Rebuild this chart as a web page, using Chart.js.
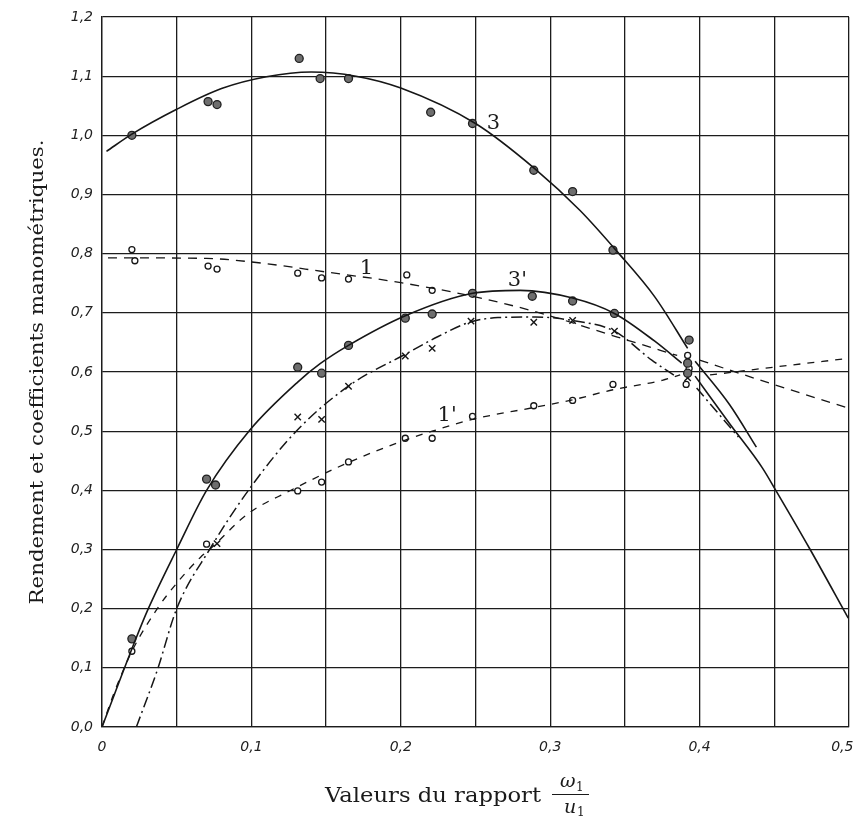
<!DOCTYPE html>
<html><head><meta charset="utf-8">
<script src="https://cdn.jsdelivr.net/npm/chart.js@4.4.1/dist/chart.umd.min.js"></script>
<style>html,body{margin:0;padding:0;background:#fff}canvas{display:block}</style>
</head><body>
<canvas id="c" width="856" height="821"></canvas>
<script>
// ---- tick labels ----
const xTickValues = [0, 0.1, 0.2, 0.3, 0.4, 0.5];
const xTickLabels = ['0', '0,1', '0,2', '0,3', '0,4', '0,5   '];
const yTickLabels = ['0,0','0,1','0,2','0,3','0,4','0,5','0,6','0,7','0,8','0,9','1,0','1,1','1,2'];

// ---- curve 3 (solid, filled dots) ----
const c3LineX = [0.003, 0.02, 0.05, 0.08, 0.11, 0.14, 0.17, 0.20, 0.25, 0.29, 0.32, 0.345, 0.37, 0.392, 0.394, 0.397, 0.42, 0.438];
const c3LineY = [0.973, 1.002, 1.044, 1.079, 1.099, 1.107, 1.100, 1.080, 1.020, 0.943, 0.873, 0.803, 0.727, 0.640, null, 0.618, 0.545, 0.473];
const c3PtsX = [0.020, 0.071, 0.077, 0.132, 0.146, 0.165, 0.220, 0.248, 0.289, 0.315, 0.342, 0.393];
const c3PtsY = [1.000, 1.057, 1.052, 1.130, 1.096, 1.096, 1.039, 1.020, 0.941, 0.905, 0.806, 0.654];

// ---- curve 3' (solid, filled dots) ----
const c3pLineX = [0.0, 0.0228, 0.031, 0.050, 0.070, 0.099, 0.131, 0.146, 0.165, 0.203, 0.248, 0.280, 0.315, 0.343, 0.370, 0.388, 0.392, 0.397, 0.420, 0.442, 0.451, 0.474, 0.4995];
const c3pLineY = [0.0, 0.150, 0.200, 0.300, 0.400, 0.502, 0.583, 0.614, 0.645, 0.695, 0.733, 0.738, 0.725, 0.699, 0.652, 0.615, null, 0.593, 0.513, 0.438, 0.400, 0.300, 0.184];
const c3pPtsX = [0.020, 0.070, 0.076, 0.131, 0.147, 0.165, 0.203, 0.221, 0.248, 0.288, 0.315, 0.343, 0.392, 0.392];
const c3pPtsY = [0.149, 0.419, 0.409, 0.608, 0.598, 0.645, 0.691, 0.698, 0.733, 0.728, 0.720, 0.699, 0.615, 0.598];

// ---- curve 1 (dashed, open circles) ----
const c1LineX = [0.004, 0.07, 0.10, 0.15, 0.20, 0.248, 0.29, 0.345, 0.385, 0.392, 0.400, 0.447, 0.4995];
const c1LineY = [0.793, 0.792, 0.786, 0.769, 0.751, 0.728, 0.702, 0.659, 0.628, null, 0.620, 0.581, 0.539];
const c1PtsX = [0.020, 0.022, 0.071, 0.077, 0.131, 0.147, 0.165, 0.204, 0.221, 0.392, 0.393];
const c1PtsY = [0.807, 0.788, 0.779, 0.774, 0.767, 0.759, 0.757, 0.764, 0.738, 0.628, 0.606];

// ---- curve 1' (short dashes, open circles) ----
const c1pLineX = [0.0, 0.008, 0.020, 0.037, 0.050, 0.066, 0.072, 0.098, 0.124, 0.164, 0.203, 0.221, 0.248, 0.289, 0.315, 0.342, 0.375, 0.387, 0.397, 0.407, 0.449, 0.4995];
const c1pLineY = [0.0, 0.057, 0.128, 0.200, 0.243, 0.287, 0.300, 0.361, 0.397, 0.446, 0.485, 0.500, 0.520, 0.540, 0.553, 0.570, 0.586, 0.595, null, 0.595, 0.608, 0.623];
const c1pPtsX = [0.020, 0.070, 0.131, 0.147, 0.165, 0.203, 0.221, 0.248, 0.289, 0.315, 0.342, 0.391];
const c1pPtsY = [0.128, 0.309, 0.399, 0.414, 0.448, 0.488, 0.488, 0.525, 0.543, 0.552, 0.579, 0.579];

// ---- curve 2 (dash-dot, crosses) ----
const c2LineX = [0.023, 0.037, 0.050, 0.072, 0.098, 0.130, 0.166, 0.203, 0.225, 0.246, 0.265, 0.290, 0.315, 0.343, 0.368, 0.385, 0.392, 0.398, 0.426];
const c2LineY = [0.0, 0.096, 0.200, 0.300, 0.400, 0.500, 0.578, 0.630, 0.660, 0.684, 0.692, 0.693, 0.687, 0.669, 0.620, 0.591, null, 0.573, 0.490];
const c2PtsX = [0.077, 0.131, 0.147, 0.165, 0.203, 0.221, 0.247, 0.289, 0.315, 0.343, 0.392];
const c2PtsY = [0.310, 0.524, 0.520, 0.576, 0.627, 0.640, 0.686, 0.684, 0.687, 0.669, 0.590];

// ---- curve labels ----
const curveLabels = ['3', '1', "3'", "1'"];
const curveLabelX = [0.262, 0.177, 0.278, 0.231];
const curveLabelY = [1.020, 0.775, 0.755, 0.527];

const yTitle = 'Rendement et coefficients manométriques.';
const xTitle = 'Valeurs du rapport';

function pts(xs, ys) { return xs.map((x, i) => ({ x: x, y: ys[i] })); }

const INK = '#161616';
function lineDs(xs, ys, dash, w) {
  return { data: pts(xs, ys), showLine: true, borderColor: INK, borderWidth: w, borderDash: dash,
    pointRadius: 0, pointHoverRadius: 0, cubicInterpolationMode: 'monotone', spanGaps: false, fill: false };
}
function filledDs(xs, ys) {
  return { data: pts(xs, ys), showLine: false, pointStyle: 'circle', pointRadius: 4,
    backgroundColor: '#6e6e6e', borderColor: '#202020', borderWidth: 1.3 };
}
function openDs(xs, ys) {
  return { data: pts(xs, ys), showLine: false, pointStyle: 'circle', pointRadius: 3,
    backgroundColor: '#ffffff', borderColor: '#161616', borderWidth: 1.3 };
}
function crossDs(xs, ys) {
  return { data: pts(xs, ys), showLine: false, pointStyle: 'crossRot', pointRadius: 4.5,
    backgroundColor: INK, borderColor: INK, borderWidth: 1.4 };
}

const textPlugin = {
  id: 'texts',
  afterDraw(chart) {
    const ctx = chart.ctx, xs = chart.scales.x, ys = chart.scales.y;
    ctx.save();
    ctx.fillStyle = '#1a1a1a';
    // curve labels
    ctx.font = '21px "DejaVu Serif"';
    ctx.textAlign = 'center'; ctx.textBaseline = 'middle';
    curveLabels.forEach((t, i) => ctx.fillText(t, xs.getPixelForValue(curveLabelX[i]), ys.getPixelForValue(curveLabelY[i])));
    // y title
    ctx.save();
    ctx.font = '19px "DejaVu Serif"';
    const wY = ctx.measureText(yTitle).width;
    ctx.translate(38, (chart.chartArea.top + chart.chartArea.bottom) / 2);
    ctx.rotate(-Math.PI / 2);
    ctx.scale(465 / wY, 1);
    ctx.textAlign = 'center'; ctx.textBaseline = 'middle';
    ctx.fillText(yTitle, 0, 0);
    ctx.restore();
    // x title
    ctx.save();
    ctx.font = '20px "DejaVu Serif"';
    const wX = ctx.measureText(xTitle).width;
    ctx.translate(325, 802);
    ctx.scale(216 / wX, 1);
    ctx.textAlign = 'left'; ctx.textBaseline = 'alphabetic';
    ctx.fillText(xTitle, 0, 0);
    ctx.restore();
    // fraction omega1 / u1
    ctx.textBaseline = 'alphabetic'; ctx.textAlign = 'left';
    ctx.font = 'italic 19px "DejaVu Serif"';
    ctx.fillText('ω', 560, 787);
    ctx.font = '12px "DejaVu Serif"';
    ctx.fillText('1', 576, 791);
    ctx.font = 'italic 19px "DejaVu Serif"';
    ctx.fillText('u', 564, 813);
    ctx.font = '12px "DejaVu Serif"';
    ctx.fillText('1', 577, 816);
    ctx.strokeStyle = '#1a1a1a'; ctx.lineWidth = 1.2;
    ctx.beginPath(); ctx.moveTo(552, 794.5); ctx.lineTo(589, 794.5); ctx.stroke();
    ctx.restore();
  }
};

new Chart(document.getElementById('c'), {
  type: 'scatter',
  data: {
    datasets: [
      lineDs(c3LineX, c3LineY, [], 1.6),
      lineDs(c3pLineX, c3pLineY, [], 1.6),
      lineDs(c1LineX, c1LineY, [9, 7], 1.3),
      lineDs(c1pLineX, c1pLineY, [7, 7], 1.3),
      lineDs(c2LineX, c2LineY, [11, 4, 2, 4], 1.5),
      filledDs(c3PtsX, c3PtsY),
      filledDs(c3pPtsX, c3pPtsY),
      openDs(c1PtsX, c1PtsY),
      openDs(c1pPtsX, c1pPtsY),
      crossDs(c2PtsX, c2PtsY)
    ]
  },
  options: {
    responsive: false,
    animation: false,
    events: [],
    layout: { padding: { top: 17, right: 7, left: 0, bottom: 0 } },
    plugins: { legend: { display: false }, tooltip: { enabled: false }, title: { display: false } },
    scales: {
      x: {
        type: 'linear', min: 0, max: 0.5,
        afterFit(s) { s.height = 94; s.paddingLeft = 0; s.paddingRight = 0; },
        grid: { color: '#1c1c1c', lineWidth: 1.3, drawTicks: false },
        border: { display: true, color: '#1c1c1c', width: 1.3 },
        ticks: {
          stepSize: 0.05, padding: 12, color: '#222', maxRotation: 0, autoSkip: false,
          font: { family: '"DejaVu Sans"', style: 'italic', size: 14 },
          callback(v) {
            const i = xTickValues.findIndex(t => Math.abs(t - v) < 1e-6);
            return i >= 0 ? xTickLabels[i] : '';
          }
        }
      },
      y: {
        type: 'linear', min: 0, max: 1.2,
        afterFit(s) { s.width = 102; s.paddingTop = 0; s.paddingBottom = 0; },
        grid: { color: '#1c1c1c', lineWidth: 1.3, drawTicks: false },
        border: { display: true, color: '#1c1c1c', width: 1.3 },
        ticks: {
          stepSize: 0.1, padding: 9, color: '#222', autoSkip: false,
          font: { family: '"DejaVu Sans"', style: 'italic', size: 14 },
          callback(v) {
            const i = Math.round(v * 10);
            return yTickLabels[i] !== undefined ? yTickLabels[i] : '';
          }
        }
      }
    }
  },
  plugins: [textPlugin]
});
</script>
</body></html>
